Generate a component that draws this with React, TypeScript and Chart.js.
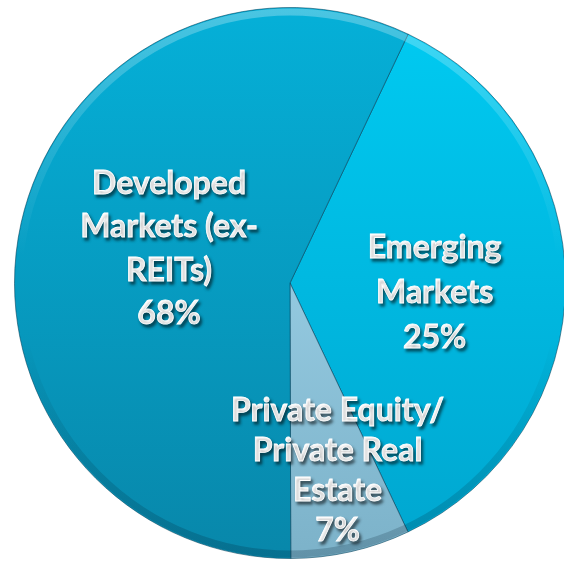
import React, { useEffect, useRef } from "react";
import { Chart, registerables } from "chart.js";

Chart.register(...registerables);

const categories = [
  "Emerging Markets",
  "Private Equity/ Private Real Estate",
  "Developed Markets (ex-REITs)",
];
// slice shares as drawn in the picture
const sliceShares = [35.9, 7.0, 57.1];
// percentages printed on the labels
const labelPercents = ["25%", "7%", "68%"];
const labelLines = [
  ["Emerging", "Markets"],
  ["Private Equity/", "Private Real", "Estate"],
  ["Developed", "Markets (ex-", "REITs)"],
];
const topColors = ["#00cbf2", "#abe0f6", "#05b0d8"];
const bottomColors = ["#00a6cf", "#7cb2c9", "#0887aa"];
const labelRadius = [0.525, 0.7, 0.45];
const labelNudgeX = [0, 5, 0];
const labelNudgeY = [10, 0, -7];
const lineHeights = [45, 40, 43.5];

const rimPlugin = {
  id: "rim",
  afterDatasetsDraw(chart: any) {
    const arc = chart.getDatasetMeta(0).data[0];
    if (!arc) return;
    const { x, y, outerRadius } = arc.getProps(["x", "y", "outerRadius"], true);
    const ctx = chart.ctx;
    ctx.save();
    const g = ctx.createLinearGradient(0, y - outerRadius, 0, y + outerRadius);
    g.addColorStop(0, "rgba(255,255,255,0.28)");
    g.addColorStop(0.45, "rgba(255,255,255,0.0)");
    g.addColorStop(0.6, "rgba(0,0,0,0.0)");
    g.addColorStop(1, "rgba(0,30,50,0.22)");
    ctx.strokeStyle = g;
    ctx.lineWidth = 7;
    ctx.beginPath();
    ctx.arc(x, y, outerRadius - 4.5, 0, Math.PI * 2);
    ctx.stroke();
    ctx.restore();
  },
};

const labelPlugin = {
  id: "sliceLabels",
  afterDatasetsDraw(chart: any) {
    const ctx = chart.ctx;
    const meta = chart.getDatasetMeta(0);
    meta.data.forEach((arc: any, i: number) => {
      const { x, y, startAngle, endAngle, outerRadius } = arc.getProps(
        ["x", "y", "startAngle", "endAngle", "outerRadius"],
        true
      );
      const mid = (startAngle + endAngle) / 2;
      const cx = x + Math.cos(mid) * outerRadius * labelRadius[i] + labelNudgeX[i];
      const cy = y + Math.sin(mid) * outerRadius * labelRadius[i] + labelNudgeY[i];
      const lines = [...labelLines[i], labelPercents[i]];
      const lh = lineHeights[i];
      const y0 = cy - ((lines.length - 1) * lh) / 2;
      ctx.save();
      ctx.font = "bold 32px Lato, 'Open Sans', sans-serif";
      ctx.textAlign = "center";
      ctx.textBaseline = "middle";
      ctx.fillStyle = "#ffffff";
      ctx.shadowColor = "rgba(0,0,0,0.55)";
      ctx.shadowBlur = 3;
      ctx.shadowOffsetX = 2;
      ctx.shadowOffsetY = 3;
      lines.forEach((t, k) => {
        ctx.fillText(t, cx, y0 + k * lh);
        ctx.lineWidth = 0.8;
        ctx.strokeStyle = "#ffffff";
        ctx.strokeText(t, cx, y0 + k * lh);
      });
      ctx.restore();
    });
  },
};

export default function App() {
  const ref = useRef<HTMLCanvasElement | null>(null);
  useEffect(() => {
    if (!ref.current) return;
    const chart = new Chart(ref.current, {
      type: "pie",
      data: {
        labels: categories,
        datasets: [
          {
            data: sliceShares,
            backgroundColor: (c: any) => {
              const ch = c.chart;
              const area = ch.chartArea;
              const i = c.dataIndex;
              if (!area) return topColors[i];
              const g = ch.ctx.createLinearGradient(0, area.top, 0, area.bottom);
              g.addColorStop(0, topColors[i]);
              g.addColorStop(1, bottomColors[i]);
              return g;
            },
            borderColor: "rgba(0,60,85,0.55)",
            borderWidth: 1,
          },
        ],
      },
      options: {
        animation: false,
        responsive: false,
        maintainAspectRatio: false,
        rotation: 25.4,
        layout: { padding: { left: 14, right: 14, top: 7, bottom: 21 } },
        plugins: {
          legend: { display: false },
          tooltip: { enabled: false },
        },
      },
      plugins: [rimPlugin, labelPlugin],
    });
    return () => chart.destroy();
  }, []);
  return (
    <div
      style={{
        position: "fixed",
        left: 0,
        top: 0,
        width: 564,
        height: 564,
        overflow: "hidden",
        background: "#ffffff",
      }}
    >
      <canvas ref={ref} width={580} height={580} style={{ width: 580, height: 580 }} />
    </div>
  );
}
